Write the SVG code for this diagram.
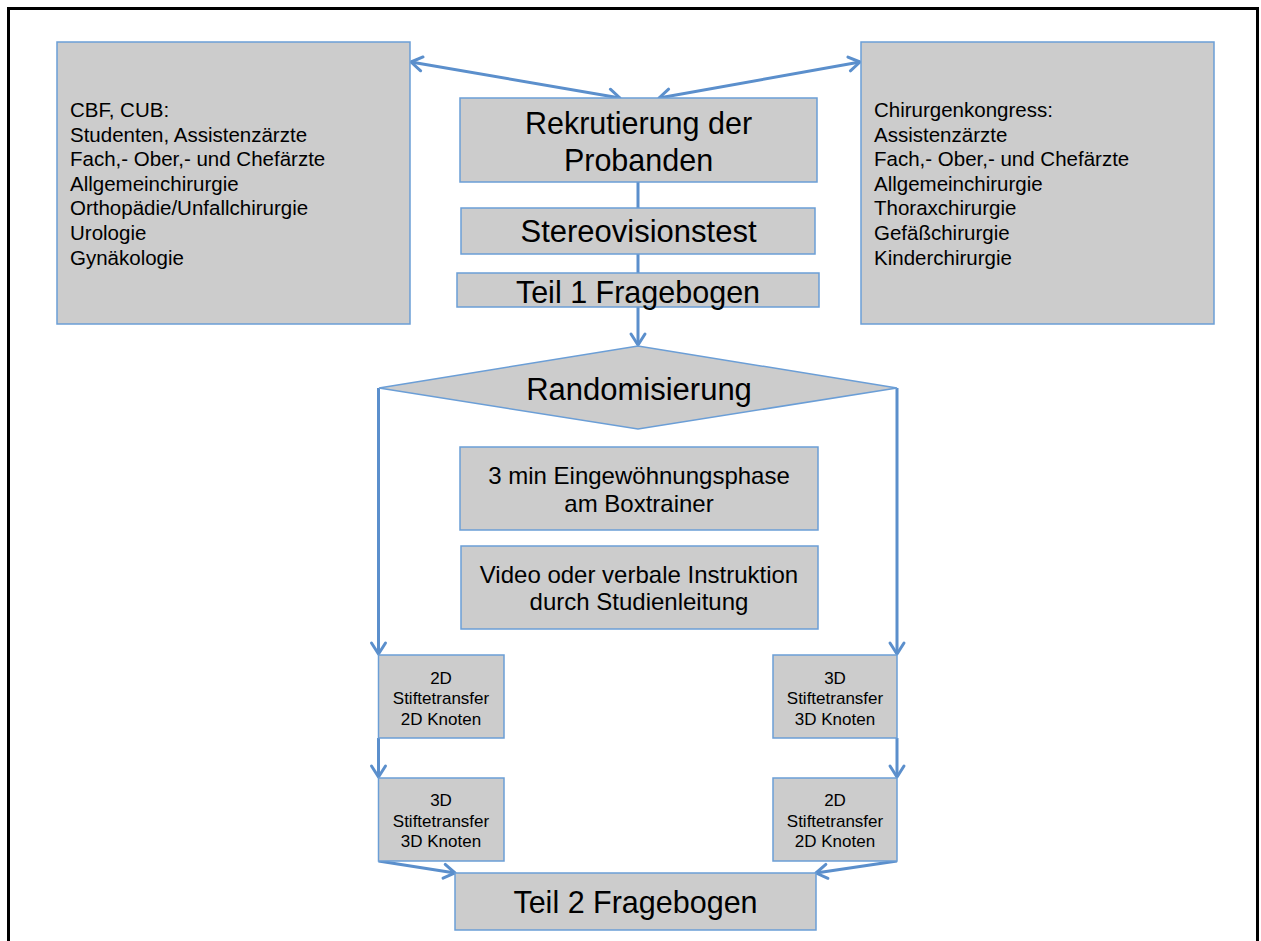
<svg xmlns="http://www.w3.org/2000/svg" width="1261" height="941" viewBox="0 0 1261 941">
<defs>
<style>
.box{fill:#cccccc;stroke:#6b9ed6;stroke-width:1.5}
.t{font-family:"Liberation Sans",Arial,sans-serif;fill:#000}
.c{text-anchor:middle}
.big{font-size:30.5px}
.mid{font-size:24px}
.sm{font-size:17px}
.side{font-size:20.5px}
.ln{fill:none;stroke:#5b8fcc;stroke-width:3}
</style>
<marker id="ah" viewBox="-14 -10 17 20" refX="0" refY="0" markerWidth="17" markerHeight="20" markerUnits="userSpaceOnUse" orient="auto-start-reverse" overflow="visible">
<path d="M-11,-7 L0,0 L-11,7" fill="none" stroke="#5b8fcc" stroke-width="3" stroke-linecap="round" stroke-linejoin="round"/>
</marker>
</defs>
<rect x="0" y="0" width="1261" height="941" fill="#fff"/>
<path d="M8.5,960 V8.5 H1257.5 V960" fill="none" stroke="#000" stroke-width="3"/>

<g id="connectors">
<line class="ln" x1="411" y1="62" x2="620" y2="98" marker-start="url(#ah)" marker-end="url(#ah)"/>
<line class="ln" x1="659" y1="98" x2="860" y2="62" marker-start="url(#ah)" marker-end="url(#ah)"/>
<line class="ln" x1="638" y1="182" x2="638" y2="208"/>
<line class="ln" x1="638" y1="254" x2="638" y2="273"/>
<line class="ln" x1="638" y1="307" x2="638" y2="345" marker-end="url(#ah)"/>
<line class="ln" x1="378.5" y1="388" x2="378.5" y2="654" marker-end="url(#ah)"/>
<line class="ln" x1="897" y1="388" x2="897" y2="654" marker-end="url(#ah)"/>
<line class="ln" x1="378.5" y1="738" x2="378.5" y2="777" marker-end="url(#ah)"/>
<line class="ln" x1="897" y1="738" x2="897" y2="777" marker-end="url(#ah)"/>
<line class="ln" x1="378.5" y1="861" x2="455" y2="873" marker-end="url(#ah)"/>
<line class="ln" x1="897" y1="861" x2="816" y2="873" marker-end="url(#ah)"/>
</g>

<g id="left-box">
<rect class="box" x="57" y="42" width="353" height="282"/>
<text class="t side" x="70" y="117">CBF, CUB:</text>
<text class="t side" x="70" y="141.6">Studenten, Assistenzärzte</text>
<text class="t side" x="70" y="166.2">Fach,- Ober,- und Chefärzte</text>
<text class="t side" x="70" y="190.8">Allgemeinchirurgie</text>
<text class="t side" x="70" y="215.4">Orthopädie/Unfallchirurgie</text>
<text class="t side" x="70" y="240">Urologie</text>
<text class="t side" x="70" y="264.6">Gynäkologie</text>
</g>

<g id="right-box">
<rect class="box" x="861" y="42" width="353" height="282"/>
<text class="t side" x="874" y="117">Chirurgenkongress:</text>
<text class="t side" x="874" y="141.6">Assistenzärzte</text>
<text class="t side" x="874" y="166.2">Fach,- Ober,- und Chefärzte</text>
<text class="t side" x="874" y="190.8">Allgemeinchirurgie</text>
<text class="t side" x="874" y="215.4">Thoraxchirurgie</text>
<text class="t side" x="874" y="240">Gefäßchirurgie</text>
<text class="t side" x="874" y="264.6">Kinderchirurgie</text>
</g>

<g id="rekrutierung">
<rect class="box" x="460" y="98" width="357" height="84"/>
<text class="t c big" x="638.5" y="134">Rekrutierung der</text>
<text class="t c big" x="638.5" y="171">Probanden</text>
</g>

<g id="stereovisionstest">
<rect class="box" x="461" y="208" width="354" height="46"/>
<text class="t c big" x="638.5" y="242" style="font-size:31px">Stereovisionstest</text>
</g>

<g id="teil1">
<rect class="box" x="457" y="273" width="362" height="34"/>
<text class="t c big" x="638" y="303">Teil 1 Fragebogen</text>
</g>

<g id="randomisierung">
<polygon class="box" points="379,388 638,346 897,388 638,429"/>
<text class="t c big" x="639" y="400" style="font-size:31px">Randomisierung</text>
</g>

<g id="eingewoehnung">
<rect class="box" x="460" y="447" width="358" height="83"/>
<text class="t c mid" x="639" y="484">3 min Eingewöhnungsphase</text>
<text class="t c mid" x="639" y="511.5">am Boxtrainer</text>
</g>

<g id="instruktion">
<rect class="box" x="461" y="546" width="357" height="83"/>
<text class="t c mid" x="639" y="582.5">Video oder verbale Instruktion</text>
<text class="t c mid" x="639" y="610">durch Studienleitung</text>
</g>

<g id="left-1">
<rect class="box" x="378.5" y="655" width="125.5" height="83"/>
<text class="t c sm" x="441" y="683.5">2D</text>
<text class="t c sm" x="441" y="704">Stiftetransfer</text>
<text class="t c sm" x="441" y="724.5">2D Knoten</text>
</g>

<g id="left-2">
<rect class="box" x="378.5" y="778" width="125.5" height="83"/>
<text class="t c sm" x="441" y="806">3D</text>
<text class="t c sm" x="441" y="826.5">Stiftetransfer</text>
<text class="t c sm" x="441" y="847">3D Knoten</text>
</g>

<g id="right-1">
<rect class="box" x="773" y="655" width="124" height="83"/>
<text class="t c sm" x="835" y="683.5">3D</text>
<text class="t c sm" x="835" y="704">Stiftetransfer</text>
<text class="t c sm" x="835" y="724.5">3D Knoten</text>
</g>

<g id="right-2">
<rect class="box" x="773" y="778" width="124" height="83"/>
<text class="t c sm" x="835" y="806">2D</text>
<text class="t c sm" x="835" y="826.5">Stiftetransfer</text>
<text class="t c sm" x="835" y="847">2D Knoten</text>
</g>

<g id="teil2">
<rect class="box" x="455" y="873" width="361" height="57"/>
<text class="t c big" x="635.5" y="913">Teil 2 Fragebogen</text>
</g>
</svg>
